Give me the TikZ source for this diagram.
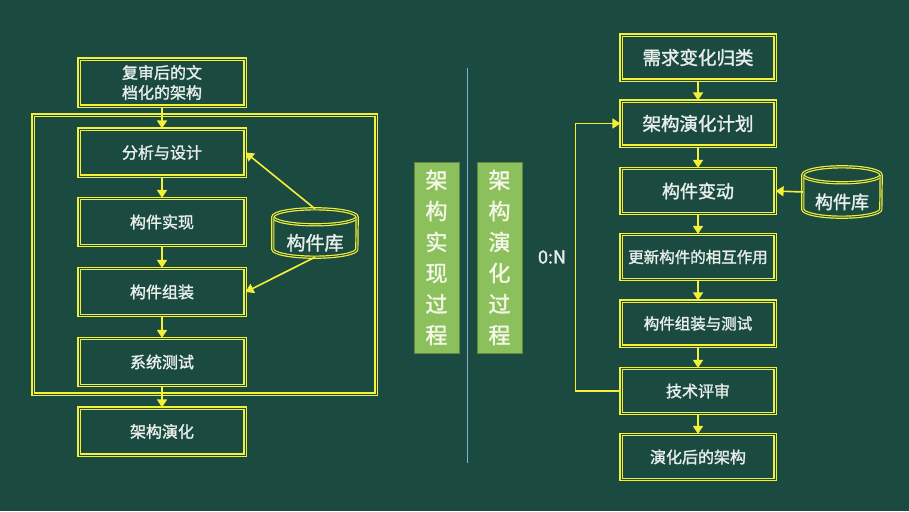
\documentclass[tikz,border=0pt]{standalone}
\usepackage{fontspec}
\setmainfont{Noto Sans CJK SC}[FakeBold=1.6]
\usetikzlibrary{arrows.meta}
\definecolor{bg}{HTML}{1B4A40}
\definecolor{ylw}{HTML}{F4F03A}
\definecolor{txt}{HTML}{E8EEEA}
\definecolor{grn}{HTML}{8CC05C}
\definecolor{gtxt}{HTML}{F3F7E6}
\definecolor{bline}{HTML}{7FB3D5}
\newcommand{\fs}[1]{\fontsize{#1}{#1}\selectfont}
\tikzset{
  dbl/.style={draw=ylw, double=bg, double distance=0.9pt, line width=1.2pt},
  lbox/.style={dbl, minimum width=166pt, minimum height=47pt, inner sep=0pt, text=txt, font=\fs{16}, align=center},
  rbox/.style={dbl, minimum width=154pt, minimum height=45pt, inner sep=0pt, text=txt, align=center},
  frm/.style={dbl, minimum width=343pt, minimum height=279pt, inner sep=0pt},
  libtext/.style={minimum width=84pt, minimum height=48pt, inner sep=0pt, text=txt},
  arr/.style={draw=ylw, line width=1.6pt, -{Triangle[width=10pt,length=8pt]}},
  gbox/.style={fill=grn, draw=grn!70!black, line width=0.6pt, minimum width=45pt, minimum height=191pt, inner sep=0pt, text=gtxt, align=center, font=\fontsize{22}{31}\selectfont},
}
\begin{document}
\begin{tikzpicture}[x=1pt,y=-1pt]
\fill[bg] (0,0) rectangle (909,511);
\useasboundingbox (0,0) rectangle (909,511);
% left column
\node[frm] (frame) at (204.5,254.5) {};
\node[lbox, font={\fontsize{16}{20}\selectfont}] (b0) at (162,82.5) {复审后的文\\档化的架构};
\node[lbox] (b1) at (162,152.5) {分析与设计};
\node[lbox] (b2) at (162,222) {构件实现};
\node[lbox] (b3) at (162,292) {构件组装};
\node[lbox] (b4) at (162,362) {系统测试};
\node[lbox] (b5) at (162,431.5) {架构演化};
\node[libtext, font=\fs{19}, text height=36pt, text depth=2pt] (lib1) at (315,233) {构件库};
\draw[dbl] ([yshift=-8pt]lib1.north) ellipse [x radius=42pt, y radius=8pt];
\draw[dbl] ([yshift=-8pt]lib1.north west) -- ([yshift=8pt]lib1.south west) arc[start angle=180, end angle=360, x radius=42pt, y radius=8pt] -- ([yshift=-8pt]lib1.north east);
\draw[arr] (b0) -- (b1);
\draw[arr] (b1) -- (b2);
\draw[arr] (b2) -- (b3);
\draw[arr] (b3) -- (b4);
\draw[arr] (b4) -- (b5);
\draw[arr] (lib1.north) -- (b1.east);
\draw[arr] (lib1.south) -- (b3.east);
% middle
\draw[bline, line width=1pt] (467,68) -- (467,463);
\node[gbox] (g1) at (436.5,257.5) {架\\构\\实\\现\\过\\程};
\node[gbox] (g2) at (499.5,257.5) {架\\构\\演\\化\\过\\程};
\node[text=txt, font=\fs{18}] (zn) at (552,257) {0:N};
% right column
\node[rbox, font=\fs{18.5}] (r1) at (698,57.5) {需求变化归类};
\node[rbox, font=\fs{18.5}] (r2) at (698,123.5) {架构演化计划};
\node[rbox, font=\fs{18}] (r3) at (698,191) {构件变动};
\node[rbox, font=\fs{15.5}] (r4) at (698,257) {更新构件的相互作用};
\node[rbox, font=\fs{15.5}] (r5) at (698,323.5) {构件组装与测试};
\node[rbox, font=\fs{16}] (r6) at (698,391) {技术评审};
\node[rbox, font=\fs{16}] (r7) at (698,457) {演化后的架构};
\node[libtext, minimum width=78pt, minimum height=50pt, font=\fs{18}, text height=35pt, text depth=1.5pt] (lib2) at (842,192) {构件库};
\draw[dbl] ([yshift=-8pt]lib2.north) ellipse [x radius=39pt, y radius=8pt];
\draw[dbl] ([yshift=-8pt]lib2.north west) -- ([yshift=8pt]lib2.south west) arc[start angle=180, end angle=360, x radius=39pt, y radius=8pt] -- ([yshift=-8pt]lib2.north east);
\draw[arr] (r1) -- (r2);
\draw[arr] (r2) -- (r3);
\draw[arr] (r3) -- (r4);
\draw[arr] (r4) -- (r5);
\draw[arr] (r5) -- (r6);
\draw[arr] (r6) -- (r7);
\draw[arr] (lib2.west) -- (r3.east);
\draw[arr] (r6.west) -- ++(-45,0) |- (r2.west);
\end{tikzpicture}
\end{document}
